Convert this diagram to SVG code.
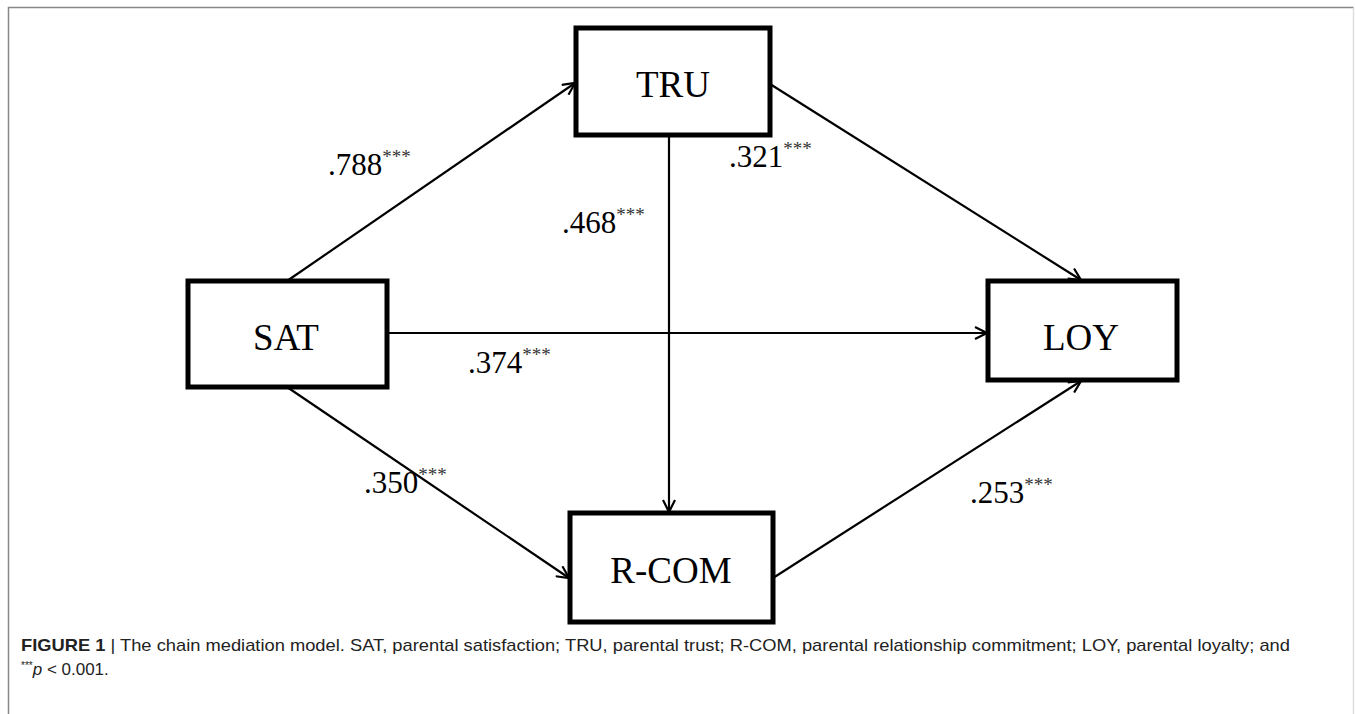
<svg xmlns="http://www.w3.org/2000/svg" width="1355" height="714" viewBox="0 0 1355 714">
<style>
.box{fill:#fff;stroke:#000;stroke-width:5;}
.nl{font-family:"Liberation Serif","Times New Roman",serif;font-size:37px;fill:#000;text-anchor:middle;}
.el{font-family:"Liberation Serif","Times New Roman",serif;font-size:31px;fill:#000;}
.st{font-size:19px;fill:#333;}
.edge{stroke:#000;stroke-width:2.2;fill:none;marker-end:url(#arr);}
.cap{font-family:"Liberation Sans",Arial,sans-serif;font-size:17px;fill:#222;}
</style>
<defs>
<marker id="arr" markerWidth="16" markerHeight="14" refX="13" refY="7" orient="auto" markerUnits="userSpaceOnUse">
<path d="M1,1 L13,7 L1,13" fill="none" stroke="#000" stroke-width="2.2"/>
</marker>
</defs>
<rect width="1355" height="714" fill="#fff"/>
<path d="M8.5,714 V7.5 H1353.5" fill="none" stroke="#888" stroke-width="1.5"/>
<path d="M1353.5,8 V714" stroke="#ddd" stroke-width="1.5"/>
<g id="connectors">
<line class="edge" x1="287" y1="281" x2="575" y2="83"/>
<line class="edge" x1="387" y1="333" x2="987" y2="333"/>
<line class="edge" x1="287" y1="387" x2="569" y2="578"/>
<line class="edge" x1="669" y1="135" x2="669" y2="512"/>
<line class="edge" x1="770" y1="84" x2="1081" y2="280"/>
<line class="edge" x1="773" y1="578" x2="1081" y2="381"/>
</g>
<g id="edge-labels">
<text class="el" x="328" y="175">.788<tspan class="st" dy="-12">***</tspan></text>
<text class="el" x="729" y="167">.321<tspan class="st" dy="-12">***</tspan></text>
<text class="el" x="562" y="233">.468<tspan class="st" dy="-12">***</tspan></text>
<text class="el" x="468" y="373">.374<tspan class="st" dy="-12">***</tspan></text>
<text class="el" x="364" y="493">.350<tspan class="st" dy="-12">***</tspan></text>
<text class="el" x="970" y="503">.253<tspan class="st" dy="-12">***</tspan></text>
</g>
<g id="node-TRU">
<rect class="box" x="576" y="28" width="194" height="107"/>
<text class="nl" x="673" y="97">TRU</text>
</g>
<g id="node-SAT">
<rect class="box" x="188" y="281" width="199" height="106"/>
<text class="nl" x="286" y="350">SAT</text>
</g>
<g id="node-LOY">
<rect class="box" x="988" y="281" width="189" height="99"/>
<text class="nl" x="1081" y="350">LOY</text>
</g>
<g id="node-RCOM">
<rect class="box" x="570" y="513" width="203" height="109"/>
<text class="nl" x="671" y="583">R-COM</text>
</g>
<g id="caption">
<text class="cap" x="21" y="651" textLength="1269" lengthAdjust="spacingAndGlyphs"><tspan font-weight="bold">FIGURE 1</tspan>  |  The chain mediation model. SAT, parental satisfaction; TRU, parental trust; R-COM, parental relationship commitment; LOY, parental loyalty; and</text>
<text class="cap" x="21" y="675"><tspan font-size="10px" dy="-6">***</tspan><tspan font-style="italic" dy="6">p</tspan> &lt; 0.001.</text>
</g>
</svg>
